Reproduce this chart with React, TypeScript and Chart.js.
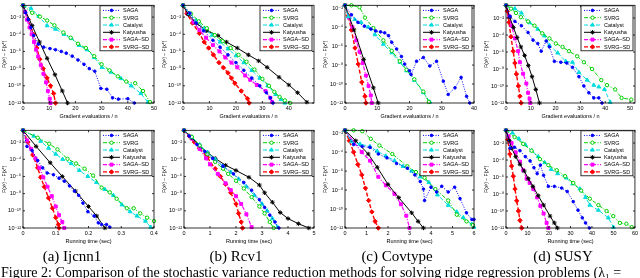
import React, { useEffect, useRef } from 'react';
import { Chart, registerables } from 'chart.js';
Chart.register(...registerables);

type Pt = [number, number]; // [x, log10 of F(x^k)-F(x*)]

const seriesNames = ['SAGA', 'SVRG', 'Catalyst', 'Katyusha', 'SAGA–SD', 'SVRG–SD'];
const seriesColors = ['#0000ff', '#00d000', '#00dcdc', '#000000', '#ff00ff', '#ff0000'];
const seriesFills = ['#0000ff', '#ffffff', '#00dcdc', '#000000', '#ff00ff', '#ff0000'];
const seriesDashes = [[1, 1.5], [4, 1.5, 1, 1.5], [4, 2], [], [4, 1.5, 1, 1.5], [4, 2]];
const seriesWidths = [1, 1, 1, 1, 1.2, 1.4];
const seriesMarkers = ['circle', 'circle', 'triangle', 'star', 'rect', 'rectRot'];
const seriesRadii = [1.3, 1.7, 2.2, 2.2, 2.1, 2.2];

const yTickExps = [-12, -10, -8, -6, -4, -2];
const yTickLabels = ['10⁻¹²', '10⁻¹⁰', '10⁻⁸', '10⁻⁶', '10⁻⁴', '10⁻²'];
const yTitle = 'F(xᵏ) − F(x*)';
const gradTitle = 'Gradient evaluations / n';
const timeTitle = 'Running time (sec)';

const ticks0to50 = [0, 10, 20, 30, 40, 50];
const ticks0to50Labels = ['0', '10', '20', '30', '40', '50'];
const ticks0to40 = [0, 10, 20, 30, 40];
const ticks0to40Labels = ['0', '10', '20', '30', '40'];
const ticksIjcnnTime = [0, 0.1, 0.2, 0.3, 0.4];
const ticksIjcnnTimeLabels = ['0', '0.1', '0.2', '0.3', '0.4'];
const ticksRcvTime = [0, 1, 2, 3, 4, 5];
const ticksRcvTimeLabels = ['0', '1', '2', '3', '4', '5'];
const ticksCovTime = [0, 1, 2, 3, 4, 5, 6];
const ticksCovTimeLabels = ['0', '1', '2', '3', '4', '5', '6'];
const ticksSusyTime = [0, 10, 20, 30, 40, 50, 60];
const ticksSusyTimeLabels = ['0', '10', '20', '30', '40', '50', '60'];

// ---- (a) Ijcnn1, gradient evaluations ----
const ijcnnGradSAGA: Pt[] = [[0,-0.63],[1,-1.5],[2,-2.3],[3,-3.2],[4.1,-4.15],[5.8,-5.15],[7.9,-5.5],[10.3,-5.67],[12.4,-5.8],[14.6,-6.0],[16.5,-6.2],[18.8,-6.55],[21,-7.0],[23.3,-7.5],[25.3,-8.0],[27.4,-8.3],[29.7,-10.3],[32,-10.4],[34.2,-11.4],[36.4,-11.55],[40,-11.5],[42.5,-12]];
const ijcnnGradSVRG: Pt[] = [[0,-0.63],[3.5,-1.5],[6.5,-1.95],[9.2,-2.4],[12,-2.96],[15.4,-3.8],[18.2,-4.4],[21,-5.1],[24,-5.6],[27.2,-6.55],[30,-7.5],[33,-8.2],[36.2,-8.9],[39.4,-9.5],[42.8,-9.7],[45.8,-10.6],[48.5,-11.9]];
const ijcnnGradCatalyst: Pt[] = [[0,-0.63],[3.1,-1.0],[6,-1.9],[9.2,-3.0],[12.4,-3.4],[15.6,-4.0],[18.5,-4.5],[21.4,-5.3],[24.4,-5.8],[27.2,-6.7],[30.1,-7.85],[33.6,-8.4],[37.4,-9.15],[41.3,-10.0],[45,-10.9],[47.7,-11.9]];
const ijcnnGradKatyusha: Pt[] = [[0,-0.63],[3.5,-3.0],[6.3,-4.9],[9.2,-6.8],[12.2,-8.7],[15,-10.6],[17,-12]];
const ijcnnGradSAGASD: Pt[] = [[0,-0.63],[0.8,-1.4],[1.5,-2.3],[2.5,-3.2],[3.3,-4.0],[4.2,-4.9],[5,-5.8],[5.8,-6.6],[6.8,-7.6],[7.8,-8.6],[8.8,-9.6],[9.5,-10.6],[10.2,-11.5],[10.5,-12]];
const ijcnnGradSVRGSD: Pt[] = [[0,-0.63],[2,-2.3],[4,-4.0],[5.3,-5.6],[6.4,-6.9],[7.7,-8.0],[9.2,-9.1],[10.5,-10.0],[11.7,-10.9],[12.4,-12]];

// ---- (b) Rcv1, gradient evaluations ----
const rcvGradSAGA: Pt[] = [[0,-0.63],[2.6,-1.55],[5,-2.7],[7.8,-3.6],[11.3,-4.7],[14,-5.5],[17,-6.4],[20,-7.3],[23,-8.2],[26,-9.1],[29,-10.0],[31.5,-10.8],[33,-11.4],[34,-12]];
const rcvGradSVRG: Pt[] = [[0,-0.63],[3,-1.6],[6,-2.5],[9,-3.3],[12,-4.1],[15,-4.8],[18,-5.6],[21,-6.4],[24,-7.2],[27,-8.1],[30,-9.2],[32.5,-10.0],[34.5,-10.7],[36.5,-11.3],[38.5,-11.7],[40.5,-12]];
const rcvGradCatalyst: Pt[] = [[0,-0.63],[2.5,-1.6],[5,-2.4],[8,-3.3],[11,-4.1],[14,-4.9],[17,-5.7],[20,-6.5],[23,-7.3],[26,-8.2],[29,-9.1],[32,-10.0],[35,-11.0],[37,-11.6],[38.5,-12]];
const rcvGradKatyusha: Pt[] = [[0,-0.63],[2,-1.7],[5,-2.7],[9,-3.6],[13.2,-4.15],[16.4,-4.9],[20.5,-5.6],[24.7,-6.4],[28.6,-7.1],[31.8,-7.85],[36.3,-9.0],[40,-9.9],[43.3,-10.8],[46.8,-11.9]];
const rcvGradSAGASD: Pt[] = [[0,-0.63],[2,-1.6],[4,-2.6],[6.2,-3.5],[8.7,-4.4],[11.3,-5.26],[13.8,-6.0],[16,-6.7],[18.3,-7.3],[20.5,-7.85],[23.5,-8.8],[25.4,-9.3],[27.9,-9.9],[31.2,-10.6],[33,-11.4],[33.7,-11.9]];
const rcvGradSVRGSD: Pt[] = [[0,-0.63],[1.5,-1.6],[3.6,-2.7],[6.2,-3.9],[8,-4.9],[9.7,-5.6],[11.5,-6.4],[13.6,-7.3],[15.3,-7.9],[17,-8.5],[18.3,-9.1],[19.6,-9.7],[22,-10.6],[24.4,-11.5],[25,-12]];

// ---- (c) Covtype, gradient evaluations ----
const covGradSAGA: Pt[] = [[0,-1.7],[2,-2.7],[4,-3.5],[6,-3.9],[8,-4.2],[9.5,-4.4],[11,-4.5],[12.3,-4.6],[13.5,-4.9],[14.5,-5.6],[16,-6.3],[17.5,-7.1],[18.5,-7.9],[20,-8.6],[20.5,-9.0],[22.2,-7.6],[24.3,-7.2],[26.3,-8.1],[28.4,-7.6],[30.5,-9.7],[32,-11.1],[34.1,-10.4],[36,-9.3],[37.7,-11.3],[38.7,-12]];
const covGradSVRG: Pt[] = [[0,-1.7],[2,-1.7],[4.5,-1.9],[6.2,-3.0],[8.8,-4.1],[11.9,-5.4],[14.5,-6.5],[17,-7.6],[19.1,-8.5],[21.5,-9.5],[24.3,-10.8],[26,-11.9]];
const covGradCatalyst: Pt[] = [[0,-1.7],[1,-2.9],[3,-3.2],[5,-3.5],[7.2,-4.0],[9.3,-4.8],[11.9,-5.8],[14.5,-6.7],[17,-7.7],[19.1,-8.6],[21.5,-9.6],[24.3,-10.9],[26.3,-11.9]];
const covGradKatyusha: Pt[] = [[0,-1.7],[2.8,-4.3],[5.8,-7.4],[8.8,-10.4],[10.3,-12]];
const covGradSAGASD: Pt[] = [[0,-1.7],[1.2,-3.0],[2.3,-4.0],[3.5,-5.4],[4.5,-6.6],[5.5,-7.8],[6.5,-9.1],[7.3,-10.2],[8,-11.2],[8.3,-12]];
const covGradSVRGSD: Pt[] = [[0,-1.7],[1,-2.8],[2,-4.3],[3.1,-6.2],[4.1,-7.9],[5.2,-9.8],[6.2,-11.3],[6.5,-12]];

// ---- (d) SUSY, gradient evaluations ----
const susyGradSAGA: Pt[] = [[0,-0.5],[1.6,-1.8],[3.6,-2.4],[6.2,-2.9],[8.9,-3.7],[10.9,-4.6],[12.8,-5.0],[14.2,-5.9],[16.2,-4.7],[17.5,-5.4],[19.5,-7.1],[22.1,-7.2],[24.5,-7.3],[26.8,-7.8],[29.4,-8.9],[31.4,-10.0],[33.4,-10.8],[35.4,-11.4],[37.4,-11.4],[38.7,-12]];
const susyGradSVRG: Pt[] = [[0,-0.5],[2,-0.9],[4,-1.4],[6,-1.9],[8.9,-2.4],[11.5,-2.9],[14.6,-3.8],[17.5,-4.4],[20.1,-5.0],[22.8,-5.4],[25.4,-5.9],[28.7,-6.5],[31.4,-7.2],[34.7,-8.0],[38.4,-9.3],[40.7,-9.9],[44,-10.4],[46.6,-11.4],[50.5,-11.6]];
const susyGradCatalyst: Pt[] = [[0,-0.5],[3.6,-0.9],[6.2,-1.4],[9.5,-2.55],[12.8,-3.3],[15.5,-4.1],[17.5,-5.2],[20.8,-6.1],[24.1,-7.1],[26.8,-7.2],[29.4,-8.4],[32.7,-9.3],[35.4,-9.9],[37.4,-10.1],[39.7,-10.4],[42,-11.9]];
const susyGradKatyusha: Pt[] = [[0,-0.5],[1.5,-1.9],[3,-3.1],[4.5,-4.3],[6,-5.4],[7.5,-6.4],[9,-7.6],[10.5,-8.9],[12,-10.4],[13.5,-12]];
const susyGradSAGASD: Pt[] = [[0,-0.5],[1.3,-1.8],[2.25,-2.9],[3.6,-4.4],[4.9,-5.9],[5.6,-7.2],[6.9,-8.55],[8.2,-9.7],[8.9,-10.8],[9.5,-11.5],[9.8,-12]];
const susyGradSVRGSD: Pt[] = [[0,-0.5],[0.5,-1.2],[1.2,-2.5],[2,-4.2],[2.9,-5.9],[3.6,-7.3],[4.2,-8.6],[5,-10.0],[5.6,-11.2],[6.1,-12]];

// ---- (a) Ijcnn1, running time ----
const ijcnnTimeSAGA: Pt[] = [[0,-0.63],[0.012,-2.5],[0.028,-3.0],[0.045,-4.15],[0.06,-5.0],[0.074,-5.6],[0.093,-5.8],[0.11,-6.2],[0.126,-6.55],[0.142,-7.1],[0.157,-7.7],[0.17,-8.2],[0.183,-9.1],[0.198,-10.1],[0.217,-10.6],[0.23,-11.4],[0.24,-11.6],[0.255,-11.6],[0.265,-11.9]];
const ijcnnTimeSVRG: Pt[] = [[0,-0.63],[0.045,-1.5],[0.08,-2.2],[0.105,-2.85],[0.136,-3.95],[0.162,-4.5],[0.188,-5.1],[0.214,-5.9],[0.24,-7.3],[0.265,-7.85],[0.286,-8.6],[0.317,-9.7],[0.338,-9.7],[0.358,-10.3],[0.379,-10.8],[0.4,-11.2]];
const ijcnnTimeCatalyst: Pt[] = [[0,-0.63],[0.033,-1.3],[0.054,-1.9],[0.078,-2.7],[0.1,-3.4],[0.121,-4.0],[0.147,-4.5],[0.172,-5.3],[0.198,-6.0],[0.224,-6.7],[0.25,-7.5],[0.276,-8.2],[0.302,-9.3],[0.327,-10.1],[0.348,-10.6],[0.374,-11.2],[0.39,-11.9]];
const ijcnnTimeKatyusha: Pt[] = [[0,-0.63],[0.04,-2.5],[0.083,-4.4],[0.12,-6.0],[0.16,-7.7],[0.2,-9.5],[0.225,-10.6],[0.25,-12]];
const ijcnnTimeSAGASD: Pt[] = [[0,-0.63],[0.012,-1.8],[0.025,-2.8],[0.038,-3.9],[0.05,-5.0],[0.062,-6.1],[0.075,-7.2],[0.088,-8.3],[0.1,-9.5],[0.11,-10.5],[0.12,-11.3],[0.126,-12]];
const ijcnnTimeSVRGSD: Pt[] = [[0,-0.63],[0.015,-2.0],[0.03,-3.5],[0.045,-5.0],[0.054,-6.1],[0.065,-7.2],[0.078,-8.5],[0.09,-9.7],[0.1,-10.8],[0.108,-11.6],[0.11,-12]];

// ---- (b) Rcv1, running time ----
const rcvTimeSAGA: Pt[] = [[0,-0.63],[0.2,-1.3],[0.5,-2.3],[0.8,-3.1],[1.1,-3.9],[1.5,-4.8],[1.9,-5.7],[2.3,-6.7],[2.6,-7.6],[2.9,-8.7],[3.1,-9.6],[3.3,-10.5],[3.5,-11.3],[3.65,-12]];
const rcvTimeSVRG: Pt[] = [[0,-0.63],[0.3,-1.4],[0.6,-2.4],[0.9,-3.4],[1.2,-4.3],[1.5,-5.1],[1.7,-5.7],[2.0,-6.5],[2.3,-7.4],[2.6,-8.4],[2.9,-9.5],[3.1,-10.3],[3.3,-11.3],[3.45,-12]];
const rcvTimeCatalyst: Pt[] = [[0,-0.63],[0.3,-1.4],[0.6,-2.3],[0.9,-3.2],[1.2,-4.0],[1.5,-4.8],[1.8,-5.5],[2.1,-6.3],[2.4,-7.2],[2.7,-8.2],[3.0,-9.2],[3.2,-10.0],[3.4,-10.9],[3.6,-11.9]];
const rcvTimeKatyusha: Pt[] = [[0,-0.63],[0.3,-1.5],[0.6,-2.4],[0.9,-3.2],[1.2,-3.9],[1.6,-4.7],[2.0,-5.3],[2.5,-6.1],[2.9,-7.0],[3.1,-7.9],[3.4,-9.0],[3.7,-10.2],[4.0,-10.9],[4.4,-11.5],[4.8,-12]];
const rcvTimeSAGASD: Pt[] = [[0,-0.63],[0.3,-1.6],[0.6,-2.8],[0.85,-3.9],[1.0,-4.6],[1.3,-5.7],[1.6,-6.8],[1.8,-7.6],[2.0,-8.3],[2.2,-9.2],[2.4,-10.4],[2.6,-11.9]];
const rcvTimeSVRGSD: Pt[] = [[0,-0.63],[0.2,-1.3],[0.4,-2.0],[0.6,-2.7],[0.9,-3.8],[1.2,-5.1],[1.4,-6.0],[1.6,-6.9],[1.8,-7.9],[2.0,-9.2],[2.1,-10.3],[2.2,-11.3],[2.25,-12]];

// ---- (c) Covtype, running time ----
const covTimeSAGA: Pt[] = [[0,-1.7],[0.4,-3.2],[0.8,-3.4],[1.16,-3.5],[1.55,-4.2],[1.95,-4.6],[2.4,-5.2],[2.9,-5.7],[3.25,-6.4],[3.5,-7.1],[3.65,-7.9],[3.7,-9.1],[4.0,-7.7],[4.26,-8.2],[4.5,-7.6],[4.8,-8.2],[5.1,-7.7],[5.35,-8.9],[5.65,-10.4],[5.9,-11.1],[6,-11.1]];
const covTimeSVRG: Pt[] = [[0,-1.7],[0.4,-1.7],[0.8,-1.8],[1.2,-2.6],[1.6,-3.3],[2.2,-4.2],[2.9,-5.5],[3.3,-6.1],[3.7,-6.7],[4.2,-7.9],[4.8,-9.1],[5.2,-10.6],[5.65,-11.3],[5.95,-11.7]];
const covTimeCatalyst: Pt[] = [[0,-1.7],[0.3,-2.9],[0.7,-3.15],[1.16,-3.4],[1.5,-3.9],[1.9,-4.4],[2.3,-4.9],[2.7,-5.5],[3.1,-6.0],[3.5,-6.6],[3.9,-7.2],[4.3,-8.5],[4.8,-9.6],[5.2,-10.3],[5.5,-10.9],[5.9,-11.6],[6,-11.9]];
const covTimeKatyusha: Pt[] = [[0,-1.7],[0.5,-2.8],[1.08,-4.2],[1.5,-5.6],[2.0,-7.4],[2.5,-8.8],[3.1,-10.4],[3.4,-11.3],[3.65,-12]];
const covTimeSAGASD: Pt[] = [[0,-1.7],[0.4,-2.9],[0.78,-4.0],[1.16,-4.9],[1.55,-6.6],[1.9,-7.5],[2.3,-8.4],[2.6,-9.5],[2.85,-10.7],[3.0,-12]];
const covTimeSVRGSD: Pt[] = [[0,-1.7],[0.2,-2.8],[0.4,-4.0],[0.6,-5.3],[0.78,-6.4],[0.95,-7.8],[1.1,-9.1],[1.25,-10.3],[1.4,-11.3],[1.55,-12]];

// ---- (d) SUSY, running time ----
const susyTimeSAGA: Pt[] = [[0,-0.5],[1.9,-2.6],[4,-2.5],[6.5,-2.9],[9,-3.6],[11.2,-4.1],[13,-4.9],[14.5,-5.6],[16,-4.6],[17.5,-5.8],[19.7,-7.1],[22.5,-7.1],[25.9,-7.3],[28.5,-7.7],[31.3,-8.9],[33.5,-9.9],[35.5,-10.8],[37,-11.4],[38.8,-12]];
const susyTimeSVRG: Pt[] = [[0,-0.5],[4,-1.3],[8,-2.1],[11.9,-2.9],[15.8,-3.9],[19.7,-4.6],[23.6,-5.2],[27.5,-5.9],[31.3,-6.7],[35,-7.6],[39,-8.55],[43,-9.3],[46.8,-10.0],[49.9,-10.6],[53,-11.4],[56,-11.5],[58.5,-11.9]];
const susyTimeCatalyst: Pt[] = [[0,-0.5],[3,-0.8],[6,-1.5],[9,-2.2],[12,-2.9],[15,-3.6],[18,-4.3],[21,-5.1],[24,-5.6],[28,-6.1],[31,-6.8],[34.4,-7.4],[37,-8.4],[39,-9.3],[43,-9.9],[47.6,-10.8],[50,-11.9]];
const susyTimeKatyusha: Pt[] = [[0,-0.5],[1.5,-1.7],[2.6,-2.6],[4.5,-3.6],[6.5,-4.5],[8.5,-5.3],[10.4,-6.2],[12.5,-7.1],[15,-8.2],[17.5,-9.3],[20.5,-10.6],[22.5,-11.4],[23.9,-12]];
const susyTimeSAGASD: Pt[] = [[0,-0.5],[1.2,-1.2],[2.6,-2.0],[4.5,-3.1],[6.5,-4.2],[8,-5.2],[9.6,-6.2],[11,-6.7],[12.7,-7.4],[14.5,-8.4],[16,-9.4],[17.5,-10.3],[18.9,-11.4],[19.7,-12]];
const susyTimeSVRGSD: Pt[] = [[0,-0.5],[0.8,-1.6],[1.8,-3.3],[2.6,-4.7],[3.4,-5.9],[4.2,-7.4],[5,-8.8],[5.8,-10.0],[6.5,-11.1],[7.3,-12]];

const captions = ['(a) Ijcnn1', '(b) Rcv1', '(c) Covtype', '(d) SUSY'];
const captionCenters = [72, 236, 397, 563];
const figureCaption = 'Figure 2: Comparison of the stochastic variance reduction methods for solving ridge regression problems (λ₁ =';

interface PanelSpec {
  left: number; top: number; width: number; height: number;
  yAxisWidth: number; padRight: number; yTitlePad: number;
  xMax: number; xTicks: number[]; xTickLabels: string[]; xTitle: string;
  yTopExp: number; series: Pt[][];
}

const panels: PanelSpec[] = [
  { left: 0, top: 0, width: 160, height: 125, yAxisWidth: 23, padRight: 6, yTitlePad: 2, xMax: 50, xTicks: ticks0to50, xTickLabels: ticks0to50Labels, xTitle: gradTitle, yTopExp: -0.63,
    series: [ijcnnGradSAGA, ijcnnGradSVRG, ijcnnGradCatalyst, ijcnnGradKatyusha, ijcnnGradSAGASD, ijcnnGradSVRGSD] },
  { left: 160, top: 0, width: 160, height: 125, yAxisWidth: 23, padRight: 6, yTitlePad: 2, xMax: 49.5, xTicks: ticks0to40, xTickLabels: ticks0to40Labels, xTitle: gradTitle, yTopExp: -0.63,
    series: [rcvGradSAGA, rcvGradSVRG, rcvGradCatalyst, rcvGradKatyusha, rcvGradSAGASD, rcvGradSVRGSD] },
  { left: 320, top: 0, width: 160, height: 125, yAxisWidth: 25, padRight: 6, yTitlePad: 3, xMax: 40, xTicks: ticks0to40, xTickLabels: ticks0to40Labels, xTitle: gradTitle, yTopExp: -1.7,
    series: [covGradSAGA, covGradSVRG, covGradCatalyst, covGradKatyusha, covGradSAGASD, covGradSVRGSD] },
  { left: 480, top: 0, width: 160, height: 125, yAxisWidth: 26, padRight: 3, yTitlePad: 4, xMax: 52, xTicks: ticks0to50, xTickLabels: ticks0to50Labels, xTitle: gradTitle, yTopExp: -0.5,
    series: [susyGradSAGA, susyGradSVRG, susyGradCatalyst, susyGradKatyusha, susyGradSAGASD, susyGradSVRGSD] },
  { left: 0, top: 125, width: 160, height: 125, yAxisWidth: 23, padRight: 6, yTitlePad: 2, xMax: 0.4, xTicks: ticksIjcnnTime, xTickLabels: ticksIjcnnTimeLabels, xTitle: timeTitle, yTopExp: -0.63,
    series: [ijcnnTimeSAGA, ijcnnTimeSVRG, ijcnnTimeCatalyst, ijcnnTimeKatyusha, ijcnnTimeSAGASD, ijcnnTimeSVRGSD] },
  { left: 160, top: 125, width: 160, height: 125, yAxisWidth: 24, padRight: 6, yTitlePad: 2, xMax: 5, xTicks: ticksRcvTime, xTickLabels: ticksRcvTimeLabels, xTitle: timeTitle, yTopExp: -0.63,
    series: [rcvTimeSAGA, rcvTimeSVRG, rcvTimeCatalyst, rcvTimeKatyusha, rcvTimeSAGASD, rcvTimeSVRGSD] },
  { left: 320, top: 125, width: 160, height: 125, yAxisWidth: 25, padRight: 6, yTitlePad: 3, xMax: 6, xTicks: ticksCovTime, xTickLabels: ticksCovTimeLabels, xTitle: timeTitle, yTopExp: -1.7,
    series: [covTimeSAGA, covTimeSVRG, covTimeCatalyst, covTimeKatyusha, covTimeSAGASD, covTimeSVRGSD] },
  { left: 480, top: 125, width: 160, height: 125, yAxisWidth: 26, padRight: 3, yTitlePad: 4, xMax: 60, xTicks: ticksSusyTime, xTickLabels: ticksSusyTimeLabels, xTitle: timeTitle, yTopExp: -0.5,
    series: [susyTimeSAGA, susyTimeSVRG, susyTimeCatalyst, susyTimeKatyusha, susyTimeSAGASD, susyTimeSVRGSD] },
];

const SANS = "'Liberation Sans', Arial, 'DejaVu Sans', sans-serif";

function drawMarker(ctx: CanvasRenderingContext2D, style: string, x: number, y: number, r: number, stroke: string, fill: string) {
  ctx.save();
  ctx.setLineDash([]);
  ctx.lineWidth = 1;
  ctx.strokeStyle = stroke;
  ctx.fillStyle = fill;
  ctx.beginPath();
  if (style === 'circle') {
    ctx.arc(x, y, r, 0, Math.PI * 2);
    ctx.fill(); ctx.stroke();
  } else if (style === 'triangle') {
    ctx.moveTo(x, y - r); ctx.lineTo(x + r * 0.866, y + r * 0.5); ctx.lineTo(x - r * 0.866, y + r * 0.5); ctx.closePath();
    ctx.fill(); ctx.stroke();
  } else if (style === 'rect') {
    const s = r * 0.707;
    ctx.rect(x - s, y - s, 2 * s, 2 * s);
    ctx.fill(); ctx.stroke();
  } else if (style === 'rectRot') {
    ctx.moveTo(x, y - r); ctx.lineTo(x + r, y); ctx.lineTo(x, y + r); ctx.lineTo(x - r, y); ctx.closePath();
    ctx.fill(); ctx.stroke();
  } else if (style === 'star') {
    const d = r * 0.707;
    ctx.moveTo(x - r, y); ctx.lineTo(x + r, y);
    ctx.moveTo(x, y - r); ctx.lineTo(x, y + r);
    ctx.moveTo(x - d, y - d); ctx.lineTo(x + d, y + d);
    ctx.moveTo(x - d, y + d); ctx.lineTo(x + d, y - d);
    ctx.stroke();
  }
  ctx.restore();
}

const axesBoxPlugin = {
  id: 'axesBox',
  afterDatasetsDraw(chart: any) {
    const { ctx, chartArea: a, scales } = chart;
    ctx.save();
    ctx.setLineDash([]);
    ctx.strokeStyle = '#000';
    ctx.lineWidth = 0.8;
    ctx.strokeRect(a.left, a.top, a.right - a.left, a.bottom - a.top);
    ctx.beginPath();
    scales.x.ticks.forEach((t: any) => {
      const px = scales.x.getPixelForValue(t.value);
      ctx.moveTo(px, a.bottom); ctx.lineTo(px, a.bottom - 2);
      ctx.moveTo(px, a.top); ctx.lineTo(px, a.top + 2);
    });
    scales.y.ticks.forEach((t: any) => {
      const py = scales.y.getPixelForValue(t.value);
      ctx.moveTo(a.left, py); ctx.lineTo(a.left + 2, py);
      ctx.moveTo(a.right, py); ctx.lineTo(a.right - 2, py);
    });
    ctx.stroke();
    ctx.restore();
  },
};

const legendPlugin = {
  id: 'insideLegend',
  afterDraw(chart: any) {
    const { ctx, chartArea: a } = chart;
    const w = 52, h = 45;
    const x0 = a.right - w - 2;
    const y0 = a.top + 0.5;
    ctx.save();
    ctx.fillStyle = '#fff';
    ctx.fillRect(x0, y0, w, h);
    ctx.setLineDash([]);
    ctx.strokeStyle = '#000';
    ctx.lineWidth = 0.8;
    ctx.strokeRect(x0, y0, w, h);
    ctx.font = `5.5px ${SANS}`;
    ctx.textBaseline = 'middle';
    ctx.textAlign = 'left';
    seriesNames.forEach((name, i) => {
      const yy = y0 + 4.6 + i * 7.3;
      ctx.save();
      ctx.strokeStyle = seriesColors[i];
      ctx.lineWidth = seriesWidths[i];
      ctx.setLineDash(seriesDashes[i]);
      ctx.beginPath();
      ctx.moveTo(x0 + 3, yy); ctx.lineTo(x0 + 20, yy);
      ctx.stroke();
      ctx.restore();
      drawMarker(ctx, seriesMarkers[i], x0 + 11.5, yy, seriesRadii[i], seriesColors[i], seriesFills[i]);
      ctx.fillStyle = '#000';
      ctx.fillText(name, x0 + 23, yy + 0.3);
    });
    ctx.restore();
  },
};

function Panel({ spec }: { spec: PanelSpec }) {
  const ref = useRef<HTMLCanvasElement | null>(null);
  useEffect(() => {
    if (!ref.current) return;
    const datasets = spec.series.map((pts, i) => ({
      label: seriesNames[i],
      data: pts.map(([x, e]) => ({ x, y: Math.pow(10, e) })),
      borderColor: seriesColors[i],
      backgroundColor: seriesFills[i],
      borderWidth: seriesWidths[i],
      borderDash: seriesDashes[i],
      pointStyle: seriesMarkers[i],
      pointRadius: seriesRadii[i],
      pointBorderColor: seriesColors[i],
      pointBackgroundColor: seriesFills[i],
      pointBorderWidth: 1,
      fill: false,
      tension: 0,
      clip: false as any,
    }));
    const chart = new Chart(ref.current, {
      type: 'line',
      data: { datasets },
      plugins: [axesBoxPlugin, legendPlugin],
      options: {
        animation: false,
        responsive: false,
        maintainAspectRatio: false,
        layout: { padding: { top: 2, right: spec.padRight, left: 0, bottom: 0 } },
        plugins: { legend: { display: false }, tooltip: { enabled: false } },
        scales: {
          x: {
            type: 'linear',
            min: 0,
            max: spec.xMax,
            grid: { display: false, drawTicks: false },
            border: { display: false },
            ticks: {
              autoSkip: false,
              maxRotation: 0,
              padding: 2,
              color: '#000',
              font: { family: SANS, size: 5.5 },
              callback: (_v: any, idx: number) => spec.xTickLabels[idx],
            },
            title: { display: true, text: spec.xTitle, color: '#000', font: { family: SANS, size: 5.5 }, padding: { top: 0, bottom: 5.5 } },
            afterBuildTicks: (s: any) => { s.ticks = spec.xTicks.map((v) => ({ value: v })); },
            afterFit: (s: any) => { s.height = 22; },
          },
          y: {
            type: 'logarithmic',
            min: 1e-12,
            max: Math.pow(10, spec.yTopExp),
            grid: { display: false, drawTicks: false },
            border: { display: false },
            ticks: {
              autoSkip: false,
              padding: 2,
              color: '#000',
              font: { family: SANS, size: 5.5 },
              callback: (_v: any, idx: number) => yTickLabels[idx],
            },
            title: { display: true, text: yTitle, color: '#000', font: { family: SANS, size: 5 }, padding: { top: spec.yTitlePad, bottom: 0 } },
            afterBuildTicks: (s: any) => { s.ticks = yTickExps.map((e) => ({ value: Math.pow(10, e) })); },
            afterFit: (s: any) => { s.width = spec.yAxisWidth; },
          },
        },
      } as any,
    });
    return () => chart.destroy();
  }, [spec]);
  return (
    <canvas
      ref={ref}
      width={spec.width}
      height={spec.height}
      style={{ position: 'absolute', left: spec.left, top: spec.top, width: spec.width, height: spec.height }}
    />
  );
}

export default function App() {
  return (
    <div style={{ position: 'absolute', left: 0, top: 0, width: 640, height: 278, overflow: 'hidden', background: '#fff' }}>
      {panels.map((p, i) => <Panel key={i} spec={p} />)}
      {captions.map((c, i) => (
        <div key={c} style={{ position: 'absolute', left: captionCenters[i] - 70, width: 140, top: 248, textAlign: 'center', fontFamily: "'Liberation Serif', 'DejaVu Serif', serif", fontSize: 15, lineHeight: '16px', color: '#000', whiteSpace: 'nowrap' }}>{c}</div>
      ))}
      <div style={{ position: 'absolute', left: 1, top: 265, width: 700, fontFamily: "'Liberation Serif', 'DejaVu Serif', serif", fontSize: 14, lineHeight: '16px', color: '#000', whiteSpace: 'nowrap' }}>{figureCaption}</div>
    </div>
  );
}
